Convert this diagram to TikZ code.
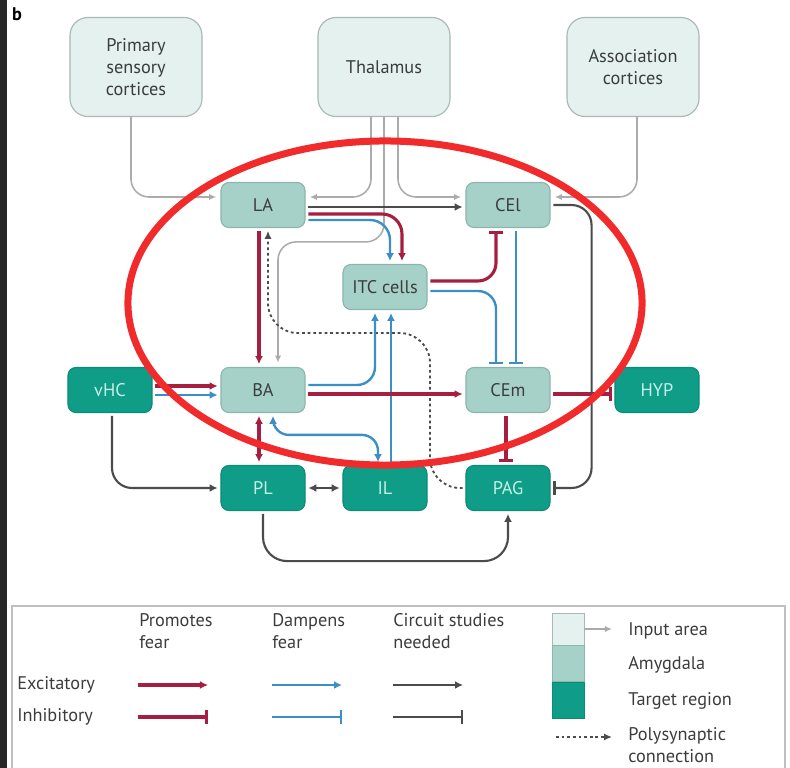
\documentclass[tikz,border=0pt]{standalone}
\usepackage{fontspec}
\setmainfont{PT Sans}
\setsansfont{PT Sans}
\usetikzlibrary{positioning,arrows.meta,calc}

\definecolor{inputfill}{HTML}{E4F1EF}
\definecolor{inputdraw}{HTML}{A8B8B5}
\definecolor{amygfill}{HTML}{A6D1C8}
\definecolor{amygdraw}{HTML}{8BB5AD}
\definecolor{targetfill}{HTML}{109D88}
\definecolor{targetdraw}{HTML}{0B8C78}
\definecolor{targettext}{HTML}{C6F0EA}
\definecolor{boxtext}{HTML}{3C3C3C}
\definecolor{fearred}{HTML}{A61E40}
\definecolor{fearblue}{HTML}{3B8FC6}
\definecolor{studygray}{HTML}{4B4B4B}
\definecolor{inputgray}{HTML}{ABABAB}
\definecolor{markred}{HTML}{F12B2B}

\begin{document}
\begin{tikzpicture}[
  x=0.025cm, y=-0.025cm,
  font=\sffamily\fontsize{13}{15.6}\selectfont,
  inputbox/.style={
    draw=inputdraw, thick, rounded corners=0.45cm,
    minimum width=3.3cm, minimum height=2.475cm,
    align=center, fill=inputfill, text=boxtext,
  },
  amyg/.style={
    draw=amygdraw, thick, rounded corners=0.2cm,
    minimum width=2.1cm, minimum height=1.125cm,
    align=center, fill=amygfill, text=boxtext,
  },
  target/.style={
    draw=targetdraw, thick, rounded corners=0.2cm,
    minimum width=2.1cm, minimum height=1.125cm,
    align=center, fill=targetfill, text=targettext,
  },
  exred/.style={-{Latex[length=2mm,width=2mm]}, line width=2.2pt, color=fearred, shorten >=2pt, shorten <=2pt},
  inred/.style={-{Bar[width=3.5mm]}, line width=2.2pt, color=fearred, shorten >=2pt, shorten <=2pt},
  exblue/.style={-{Latex[length=2mm,width=2mm]}, line width=1.7pt, color=fearblue, shorten >=2pt, shorten <=2pt},
  inblue/.style={-{Bar[width=3.5mm]}, line width=1.7pt, color=fearblue, shorten >=2pt, shorten <=2pt},
  exgray/.style={-{Latex[length=2mm,width=2mm]}, line width=1.5pt, color=studygray, shorten >=2pt, shorten <=2pt},
  ingray/.style={-{Bar[width=3.5mm]}, line width=1.5pt, color=studygray, shorten >=2pt, shorten <=2pt},
  inarr/.style={-{Latex[length=1.8mm,width=1.6mm]}, line width=1.1pt, color=inputgray, shorten >=3pt},
  poly/.style={-{Latex[length=2mm,width=1.8mm]}, line width=1.3pt, color=studygray, dash pattern=on 2pt off 2pt, shorten >=2pt, shorten <=2pt},
  legtext/.style={anchor=north west, align=left, inner sep=0pt, text=boxtext},
]

\useasboundingbox (0,0) rectangle (790,768);
\fill[black!85] (0,0) rectangle (7,768);
\node[font=\sffamily\bfseries\fontsize{13}{15}\selectfont] (panel) at (17,14) {b};

% input areas
\node[inputbox] (prim) at (136,67) {Primary\\sensory\\cortices};
\node[inputbox] (thal) at (384,67) {Thalamus};
\node[inputbox] (assoc) at (633,67) {Association\\cortices};

% amygdala
\node[amyg] (LA) at (263,205) {LA};
\node[amyg] (CEl) at (508,205) {CEl};
\node[amyg] (ITC) at (385,287) {ITC cells};
\node[amyg] (BA) at (263,390) {BA};
\node[amyg] (CEm) at (508,390) {CEm};

% targets
\node[target] (vHC) at (110,390) {vHC};
\node[target] (HYP) at (657,390) {HYP};
\node[target] (PL) at (263,488) {PL};
\node[target] (IL) at (385,488) {IL};
\node[target] (PAG) at (508,488) {PAG};

\draw[inarr, rounded corners=0.45cm] ($(prim.south)+(-5,0)$) |- ($(LA.west)+(0,-8)$);
\draw[inarr, rounded corners=0.45cm] ($(thal.south)+(-13,0)$) |- ($(LA.east)+(0,-8)$);
\draw[inarr, rounded corners=0.45cm] (thal.south) |- ($(BA.north)+(15,-125)$) -- ($(BA.north)+(15,0)$);
\draw[inarr, rounded corners=0.45cm] ($(thal.south)+(14,0)$) |- ($(CEl.west)+(0,-8)$);
\draw[inarr, rounded corners=0.45cm] ($(assoc.south)+(4,0)$) |- ($(CEl.east)+(0,-8)$);

\draw[exgray] ($(LA.east)+(0,2)$) -- ($(CEl.west)+(0,2)$);
\draw[exred, rounded corners=0.5cm] ($(LA.east)+(0,9)$) -| ($(ITC.north)+(17,0)$);
\draw[exblue, rounded corners=0.5cm] ($(LA.east)+(0,15)$) -| ($(ITC.north)+(5,0)$);
\draw[exred] ($(LA.south)+(-4,0)$) -- ($(BA.north)+(-4,0)$);
\draw[poly, rounded corners=0.75cm] (PAG.west) -| ($(ITC.south)+(45,23)$) -| ($(LA.south)+(5,0)$);

\draw[exred] ($(vHC.east)+(0,-4)$) -- ($(BA.west)+(0,-4)$);
\draw[exblue] ($(vHC.east)+(0,5)$) -- ($(BA.west)+(0,5)$);
\draw[exblue, rounded corners=0.45cm] ($(BA.east)+(0,-5)$) -| ($(ITC.south)+(-10,0)$);
\draw[exblue] ($(IL.north)+(6,0)$) -- ($(ITC.south)+(6,0)$);
\draw[exred] ($(BA.east)+(0,4)$) -- ($(CEm.west)+(0,4)$);
\draw[exred, {Latex[length=2mm,width=2mm]}-{Latex[length=2mm,width=2mm]}] ($(BA.south)+(-4,0)$) -- ($(PL.north)+(-4,0)$);
\draw[exblue, {Latex[length=2mm,width=2mm]}-{Latex[length=2mm,width=2mm]}, rounded corners=0.4cm] ($(BA.south)+(10,0)$) |- ($(IL.north)+(-7,-30)$) -- ($(IL.north)+(-7,0)$);
\draw[exgray, {Latex[length=2mm,width=2mm]}-{Latex[length=2mm,width=2mm]}] (PL.east) -- (IL.west);
\draw[exgray, rounded corners=0.5cm] ($(vHC.south)+(2,0)$) |- (PL.west);
\draw[exgray, rounded corners=0.6cm] (PL.south) -- ++(0,50) -| (PAG.south);

\draw[inred, rounded corners=0.45cm] ($(ITC.east)+(0,-6)$) -| ($(CEl.south)+(-12,0)$);
\draw[inblue, rounded corners=0.45cm] ($(ITC.east)+(0,4)$) -| ($(CEm.north)+(-12,0)$);
\draw[inblue] ($(CEl.south)+(8,0)$) -- ($(CEm.north)+(8,0)$);
\draw[inred] ($(CEm.east)+(0,4)$) -- ($(HYP.west)+(0,4)$);
\draw[inred] ($(CEm.south)+(-2,0)$) -- ($(PAG.north)+(-2,0)$);
\draw[ingray, rounded corners=0.5cm] (CEl.east) -- ++(41,0) |- (PAG.east);

\draw[markred, line width=0.175cm] (385,303) ellipse [x radius=6.425cm, y radius=4.05cm];

% legend
\draw[black!25, line width=1pt] (12,768) |- (785,606) -- (785,768);
\node[legtext] (promotes) at (139,613) {Promotes\\fear};
\node[legtext] (dampens) at (272,613) {Dampens\\fear};
\node[legtext] (studies) at (393,613) {Circuit studies\\needed};
\node[anchor=west, inner sep=0pt, text=boxtext] (excit) at (17,685) {Excitatory};
\node[anchor=west, inner sep=0pt, text=boxtext] (inhib) at (17,717) {Inhibitory};

\foreach \x/\kind in {138/red, 272/blue, 393/gray} {
  \coordinate (e\kind a) at (\x,685);
  \coordinate (e\kind b) at (\x+70,685);
  \coordinate (i\kind a) at (\x,717);
  \coordinate (i\kind b) at (\x+70,717);
  \draw[ex\kind, shorten <=0pt, shorten >=0pt] (e\kind a) -- (e\kind b);
  \draw[in\kind, shorten <=0pt, shorten >=0pt] (i\kind a) -- (i\kind b);
}

\node[draw=inputdraw, fill=inputfill, minimum width=0.8cm, minimum height=0.8cm, inner sep=0pt] (swinput) at (568,629) {};
\node[draw=amygdraw, fill=amygfill, minimum width=0.8cm, minimum height=0.9cm, inner sep=0pt, below=0pt of swinput] (swamyg) {};
\node[draw=targetdraw, fill=targetfill, minimum width=0.8cm, minimum height=0.9cm, inner sep=0pt, below=0pt of swamyg] (swtarget) {};
\coordinate (inputend) at (612,629);
\draw[inarr, shorten >=0pt] (swinput.east) -- (inputend);
\coordinate (polya) at (556,737);
\coordinate (polyb) at (612,737);
\draw[poly, shorten <=0pt, shorten >=0pt] (polya) -- (polyb);

\node[anchor=west, inner sep=0pt, text=boxtext] (inputlab) at (628,631) {Input area};
\node[anchor=west, inner sep=0pt, text=boxtext] (amyglab) at (628,665) {Amygdala};
\node[anchor=west, inner sep=0pt, text=boxtext] (targetlab) at (628,701) {Target region};
\node[legtext] (polylab) at (628,727) {Polysynaptic\\connection};

\end{tikzpicture}
\end{document}
